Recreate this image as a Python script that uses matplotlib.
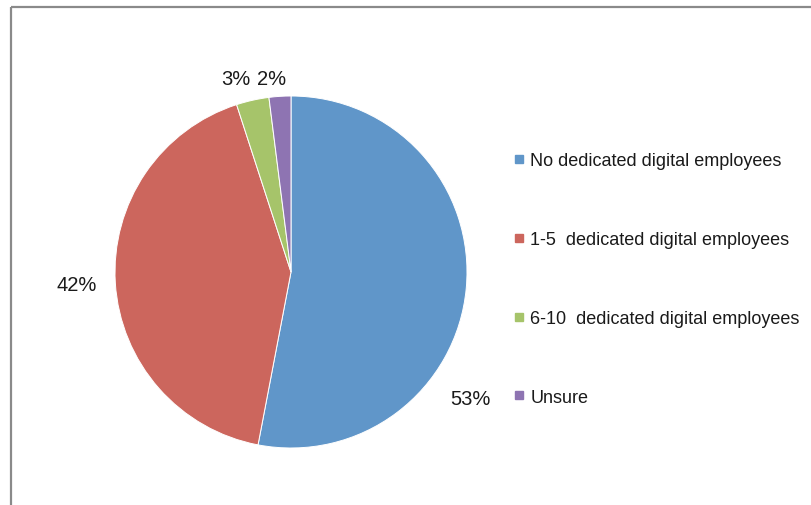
import numpy as np
import matplotlib.pyplot as plt
from matplotlib.lines import Line2D

plt.rcParams['font.family'] = ['Liberation Sans', 'DejaVu Sans']

categories = ['No dedicated digital employees', '1-5  dedicated digital employees',
              '6-10  dedicated digital employees', 'Unsure']
shares = [53, 42, 3, 2]
colors = ['#6096C9', '#CC665D', '#A6C46A', '#8E74B2']

# where each percentage label sits, in pie units (radius = 1)
label_pos = [(1.017, -0.718), (-1.216, -0.071), (-0.315, 1.101), (-0.109, 1.101)]

fig = plt.figure(figsize=(8.12, 5.06), dpi=100)
W, H = 812, 506

# pie: centre (291, 273) px from top-left, radius 176 px
r = 176
lim = 1.3
side = 2 * lim * r
cx, cy = 291, H - 273
ax = fig.add_axes([(cx - side / 2) / W, (cy - side / 2) / H, side / W, side / H])
wedges, _ = ax.pie(shares, colors=colors, startangle=90, counterclock=False,
                   wedgeprops=dict(edgecolor='white', linewidth=0.7))
ax.set_xlim(-lim, lim)
ax.set_ylim(-lim, lim)
ax.set_aspect('equal')
ax.axis('off')

for v, (x, y) in zip(shares, label_pos):
    ax.text(x, y, f'{v}%', ha='center', va='center', fontsize=14.5, color='#1a1a1a',
            clip_on=False)

# legend
handles = [Line2D([], [], marker='s', linestyle='none', markersize=5.8,
                  markerfacecolor=c, markeredgecolor=c) for c in colors]
leg = fig.legend(handles, categories, loc='upper left',
                 bbox_to_anchor=(514 / W, 1 - 153 / H), frameon=False,
                 fontsize=13, handlelength=0.6, handletextpad=0.3,
                 labelspacing=3.43, borderpad=0, borderaxespad=0)
for t in leg.get_texts():
    t.set_color('#1a1a1a')

# chart-area border (left and top edges)
fig.add_artist(Line2D([11.5 / W, 11.5 / W], [0, 1 - 8 / H], color='#8a8a8a', lw=1.6,
                      solid_capstyle='butt'))
fig.add_artist(Line2D([11.5 / W, 1], [1 - 8 / H, 1 - 8 / H], color='#8a8a8a', lw=1.6,
                      solid_capstyle='butt'))

fig.savefig('out.png', dpi=100)
